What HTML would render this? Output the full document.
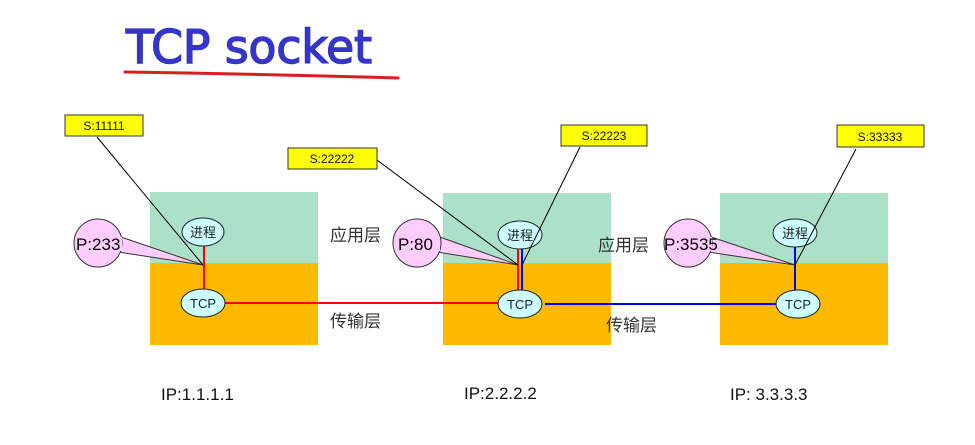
<!DOCTYPE html>
<html><head><meta charset="utf-8"><style>
html,body{margin:0;padding:0;background:#fff;}
svg{display:block;}
text{font-family:"Liberation Sans","Noto Sans CJK SC",sans-serif;}
</style></head><body>
<svg width="975" height="445" viewBox="0 0 975 445" xmlns="http://www.w3.org/2000/svg">
<text x="126" y="63" font-size="46" fill="#3535c8" stroke="#3535c8" stroke-width="1.5" style="font-family:'DejaVu Sans','Liberation Sans',sans-serif" textLength="246" lengthAdjust="spacingAndGlyphs">TCP socket</text>
<path d="M125 72 Q260 74 398 78" stroke="#d42020" stroke-width="3" fill="none" stroke-linecap="round"/>

<rect x="150" y="192" width="168" height="71" fill="#abe1c9"/>
<rect x="150" y="263" width="168" height="82" fill="#ffba00"/>
<rect x="443" y="193" width="168" height="70" fill="#abe1c9"/>
<rect x="443" y="263" width="168" height="82" fill="#ffba00"/>
<rect x="720" y="193" width="168" height="70" fill="#abe1c9"/>
<rect x="720" y="263" width="168" height="82" fill="#ffba00"/>

<line x1="225" y1="303" x2="500" y2="303" stroke="#f00" stroke-width="2"/>
<line x1="545" y1="304" x2="777" y2="304" stroke="#00f" stroke-width="2"/>
<line x1="204" y1="246" x2="204" y2="290" stroke="#f00" stroke-width="2"/>
<line x1="518" y1="248" x2="518" y2="290" stroke="#f00" stroke-width="2"/>
<line x1="522" y1="248" x2="522" y2="290" stroke="#00f" stroke-width="2"/>
<line x1="795" y1="247" x2="795" y2="290" stroke="#00f" stroke-width="2"/>

<g fill="#ffccff" stroke="#333" stroke-width="1">
<path d="M118 236 L203 265 L118 252 Z"/>
<circle cx="98" cy="243" r="24"/>
<path d="M437 236 L518 265 L437 252 Z"/>
<circle cx="417" cy="243" r="24"/>
<path d="M708 236 L795 265 L708 252 Z"/>
<circle cx="688" cy="243" r="24"/>
</g>
<rect x="112" y="237" width="10" height="14" fill="#ffccff"/>
<rect x="432" y="237" width="8" height="14" fill="#ffccff"/>
<rect x="702" y="237" width="10" height="14" fill="#ffccff"/>
<text x="76" y="250" font-size="17">P:233</text>
<text x="398" y="250" font-size="17">P:80</text>
<text x="664" y="250" font-size="17">P:3535</text>

<g fill="#ccffff" stroke="#222" stroke-width="1">
<ellipse cx="203" cy="232" rx="21" ry="14"/>
<ellipse cx="203" cy="303" rx="22" ry="14"/>
<ellipse cx="520" cy="235" rx="22" ry="14"/>
<ellipse cx="520" cy="304" rx="22" ry="14"/>
<ellipse cx="795" cy="233" rx="22" ry="14"/>
<ellipse cx="798" cy="304" rx="22" ry="14"/>
</g>
<g font-size="13" text-anchor="middle" fill="#222">
<text x="203" y="237">进程</text>
<text x="203" y="308">TCP</text>
<text x="520" y="240">进程</text>
<text x="520" y="309">TCP</text>
<text x="795" y="238">进程</text>
<text x="798" y="309">TCP</text>
</g>

<g stroke="#000" stroke-width="1">
<line x1="97" y1="137" x2="203" y2="265"/>
<line x1="377" y1="160" x2="518" y2="265"/>
<line x1="580" y1="147" x2="522" y2="265"/>
<line x1="856" y1="149" x2="795" y2="265"/>
</g>
<g fill="#ffff00" stroke="#333" stroke-width="1">
<rect x="65" y="115" width="78" height="21"/>
<rect x="288" y="148" width="89" height="21"/>
<rect x="561" y="125" width="86" height="21"/>
<rect x="837" y="125" width="87" height="22"/>
</g>
<g font-size="12" text-anchor="middle" fill="#111">
<text x="104" y="130">S:11111</text>
<text x="332" y="163">S:22222</text>
<text x="604" y="140">S:22223</text>
<text x="880" y="141">S:33333</text>
</g>

<g font-size="17" fill="#333">
<text x="330" y="241">应用层</text>
<text x="330" y="327">传输层</text>
<text x="598" y="251">应用层</text>
<text x="606" y="331">传输层</text>
</g>
<g font-size="17" fill="#111">
<text x="161" y="400">IP:1.1.1.1</text>
<text x="464" y="399">IP:2.2.2.2</text>
<text x="730" y="400">IP: 3.3.3.3</text>
</g>
</svg>
</body></html>
